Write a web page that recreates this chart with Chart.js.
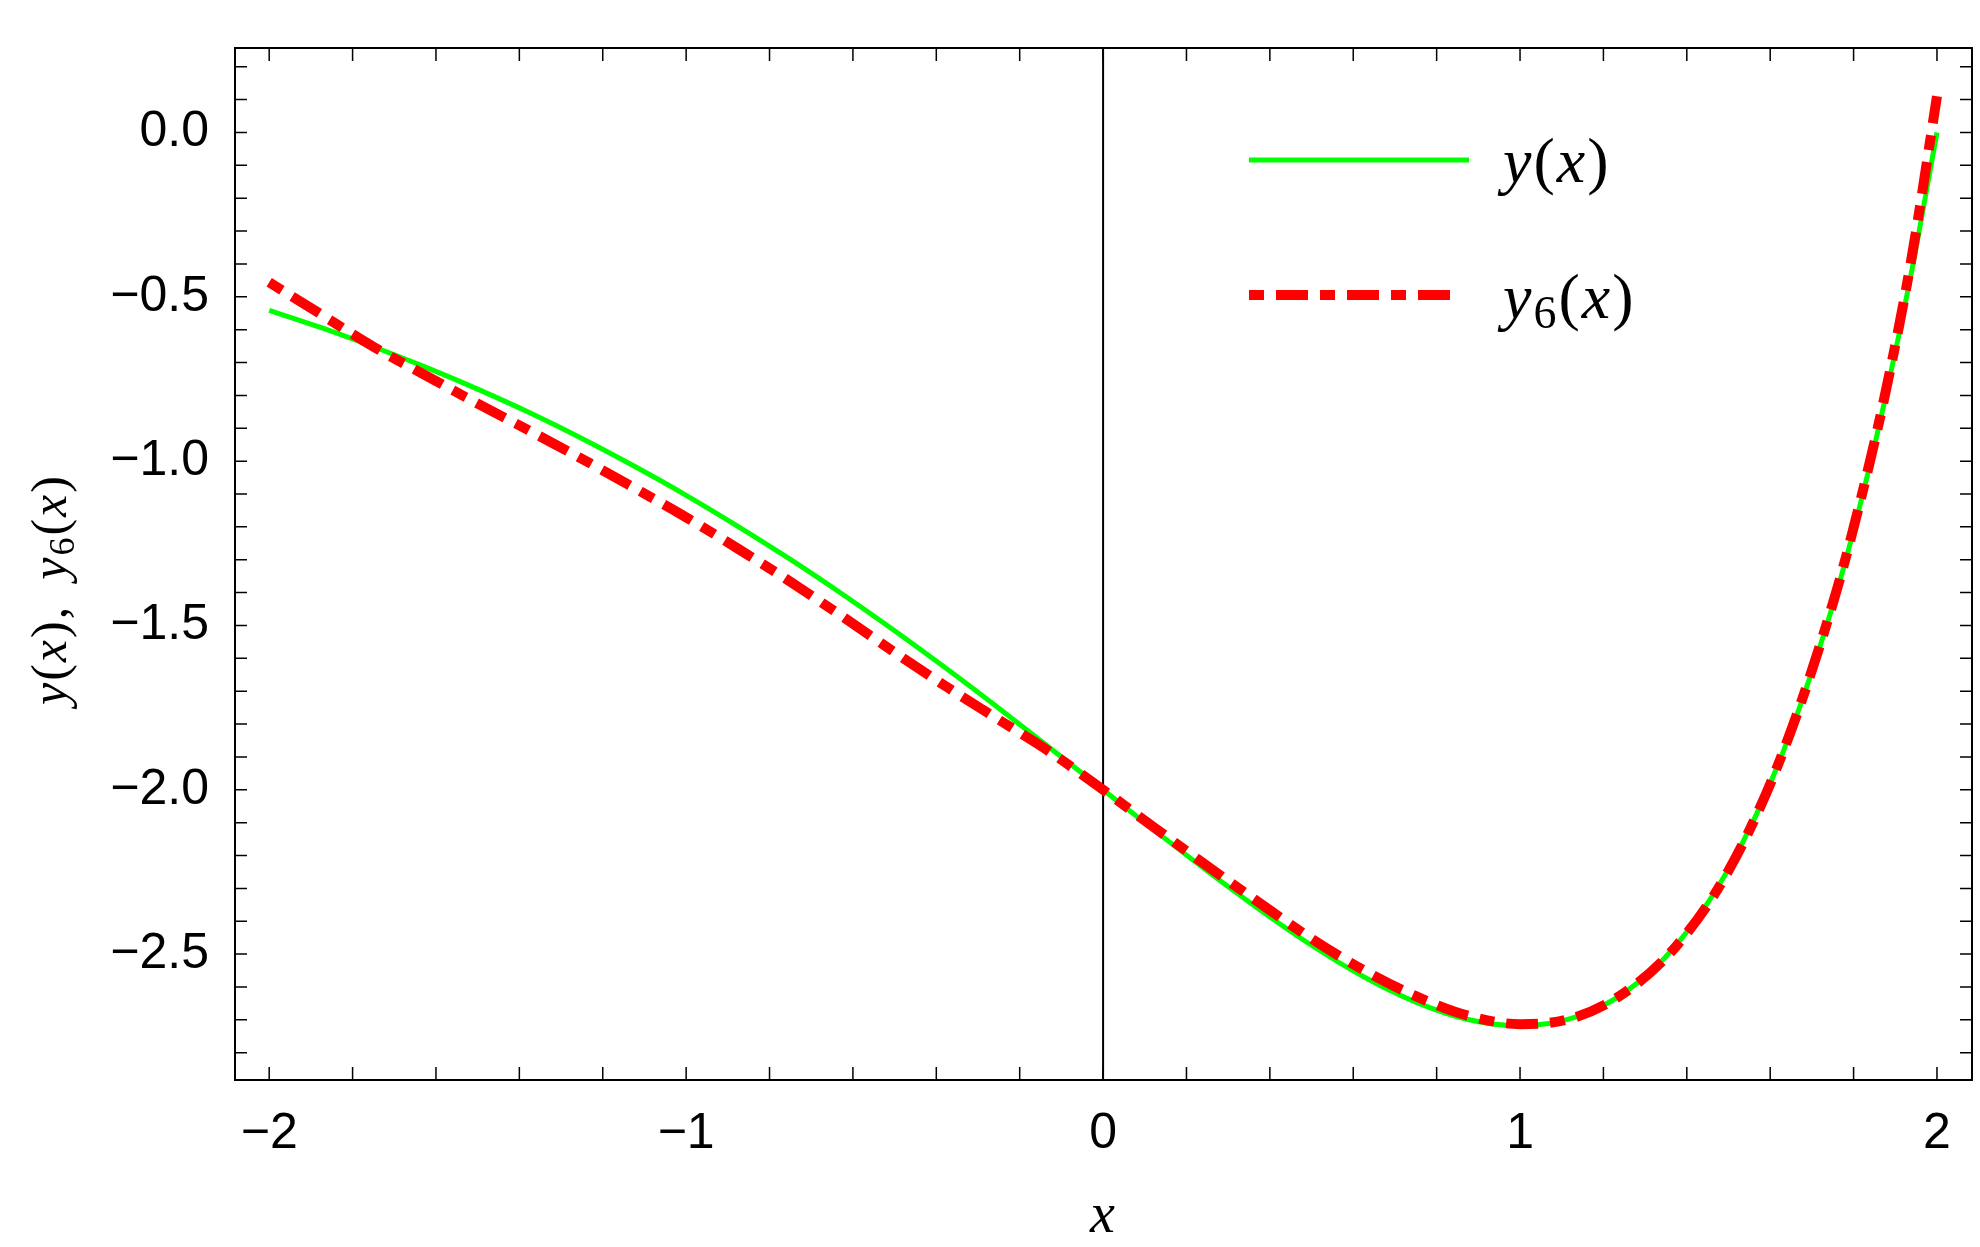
<!DOCTYPE html>
<html><head><meta charset="utf-8">
<script src="https://cdn.jsdelivr.net/npm/chart.js@4.4.1/dist/chart.umd.min.js"></script>
<style>html,body{margin:0;padding:0;background:#fff}#wrap{width:1980px;height:1247px}</style>
</head><body><div id="wrap"><canvas id="c" width="1980" height="1247"></canvas></div>
<script>
const xValues = [-2,-1.875,-1.75,-1.625,-1.5,-1.375,-1.25,-1.125,-1,-0.875,-0.75,-0.625,-0.5,-0.375,-0.25,-0.125,0,0.125,0.25,0.375,0.5,0.625,0.75,0.875,1,1.125,1.25,1.375,1.5,1.625,1.75,1.8125,1.875,1.9375,2];
const yExact = [-0.541,-0.594,-0.652,-0.714,-0.781,-0.853,-0.931,-1.015,-1.104,-1.199,-1.299,-1.405,-1.516,-1.632,-1.752,-1.875,-2,-2.125,-2.247,-2.364,-2.473,-2.569,-2.646,-2.699,-2.718,-2.695,-2.618,-2.472,-2.241,-1.904,-1.439,-1.149,-0.815,-0.434,0];
const yApprox = [-0.456,-0.554,-0.652,-0.739,-0.825,-0.908,-0.993,-1.081,-1.171,-1.267,-1.367,-1.473,-1.582,-1.687,-1.787,-1.887,-2,-2.117,-2.232,-2.344,-2.453,-2.549,-2.628,-2.687,-2.713,-2.695,-2.618,-2.475,-2.246,-1.904,-1.434,-1.14,-0.80,-0.394,0.11];
const xTicks = [-2,-1.8,-1.6,-1.4,-1.2,-1,-0.8,-0.6,-0.4,-0.2,0,0.2,0.4,0.6,0.8,1,1.2,1.4,1.6,1.8,2];
const xLabels = {"-2":"\u22122","-1":"\u22121","0":"0","1":"1","2":"2"};
const yTicks = [-2.8,-2.7,-2.6,-2.5,-2.4,-2.3,-2.2,-2.1,-2,-1.9,-1.8,-1.7,-1.6,-1.5,-1.4,-1.3,-1.2,-1.1,-1,-0.9,-0.8,-0.7,-0.6,-0.5,-0.4,-0.3,-0.2,-0.1,0,0.1,0.2];
const yLabels = {"-2.5":"\u22122.5","-2":"\u22122.0","-1.5":"\u22121.5","-1":"\u22121.0","-0.5":"\u22120.5","0":"0.0"};
const RED_DASH = [15,12,32,12];

function key(v){return String(Math.round(v*10)/10);}

const deco = {
  id:'deco',
  beforeDatasetsDraw(chart){
    const {ctx, chartArea:a, scales:{x,y}} = chart;
    ctx.save();
    ctx.strokeStyle='#000'; ctx.lineWidth=2;
    const x0 = x.getPixelForValue(0);
    ctx.beginPath(); ctx.moveTo(x0,a.top); ctx.lineTo(x0,a.bottom); ctx.stroke();
    ctx.restore();
  },
  afterDraw(chart){
    const {ctx, chartArea:a, scales:{x,y}} = chart;
    ctx.save();
    ctx.strokeStyle='#000'; ctx.lineWidth=2;
    ctx.strokeRect(a.left,a.top,a.right-a.left,a.bottom-a.top);
    ctx.lineWidth=1.5;
    ctx.beginPath();
    xTicks.forEach(v=>{const p=x.getPixelForValue(v);
      ctx.moveTo(p,a.bottom);ctx.lineTo(p,a.bottom-13);
      ctx.moveTo(p,a.top);ctx.lineTo(p,a.top+13);});
    yTicks.forEach(v=>{const p=y.getPixelForValue(v);
      ctx.moveTo(a.left,p);ctx.lineTo(a.left+12,p);
      ctx.moveTo(a.right,p);ctx.lineTo(a.right-12,p);});
    ctx.stroke();
    ctx.lineCap='butt';
    ctx.strokeStyle='#00ff00'; ctx.lineWidth=5;
    ctx.beginPath(); ctx.moveTo(1249,160); ctx.lineTo(1469,160); ctx.stroke();
    ctx.strokeStyle='#ff0000'; ctx.lineWidth=10; ctx.setLineDash(RED_DASH);
    ctx.beginPath(); ctx.moveTo(1249,295); ctx.lineTo(1452,295); ctx.stroke();
    ctx.setLineDash([]);
    ctx.fillStyle='#000'; ctx.textBaseline='alphabetic'; ctx.textAlign='left';
    function mathText(parts, x0, yb){
      let cx=x0;
      parts.forEach(([t,style,size,dy])=>{
        ctx.font=style+' '+size+'px "Liberation Serif", serif';
        ctx.fillText(t,cx,yb+(dy||0)); cx+=ctx.measureText(t).width+2;
      });
      return cx;
    }
    mathText([['y','italic',64],['(','normal',64],['x','italic',64],[')','normal',64]],1503,182);
    mathText([['y','italic',64],['6','normal',46,10],['(','normal',64],['x','italic',64],[')','normal',64]],1503,318);
    mathText([['x','italic',56],],1090,1232);
    ctx.save();
    ctx.translate(66,600); ctx.rotate(-Math.PI/2);
    mathText([['y','italic',50],['(','normal',50],['x','italic',50],[')','normal',50],[',  ','normal',50],['y','italic',50],['6','normal',36,8],['(','normal',50],['x','italic',50],[')','normal',50]],-105,0);
    ctx.restore();
    ctx.restore();
  }
};

new Chart(document.getElementById('c'),{
  type:'line',
  data:{datasets:[
    {label:'y(x)',data:xValues.map((v,i)=>({x:v,y:yExact[i]})),borderColor:'#00ff00',borderWidth:5,pointRadius:0,cubicInterpolationMode:'monotone',fill:false,order:2},
    {label:'y6(x)',data:xValues.map((v,i)=>({x:v,y:yApprox[i]})),borderColor:'#ff0000',borderWidth:10,borderDash:RED_DASH,borderCapStyle:'butt',pointRadius:0,cubicInterpolationMode:'monotone',fill:false,order:1}
  ]},
  options:{
    responsive:false,animation:false,devicePixelRatio:1,
    layout:{autoPadding:false,padding:{left:0,top:6,right:8,bottom:0}},
    plugins:{legend:{display:false},tooltip:{enabled:false}},
    scales:{
      x:{type:'linear',min:-2.082,max:2.084,
        afterBuildTicks:s=>{s.ticks=xTicks.map(v=>({value:v}));},
        afterFit:s=>{s.height=167;},
        grid:{display:false},border:{display:false},
        ticks:{autoSkip:false,maxRotation:0,padding:16,color:'#000',font:{family:'"Liberation Sans", Arial, sans-serif',size:50},
          callback:v=>xLabels[key(v)]||''}},
      y:{type:'linear',min:-2.883,max:0.257,
        afterBuildTicks:s=>{s.ticks=yTicks.map(v=>({value:v}));},
        afterFit:s=>{s.width=235;},
        grid:{display:false},border:{display:false},
        ticks:{autoSkip:false,padding:18,color:'#000',font:{family:'"Liberation Sans", Arial, sans-serif',size:50},
          callback:v=>yLabels[key(v)]||''}}
    }
  },
  plugins:[deco]
});
</script></body></html>
